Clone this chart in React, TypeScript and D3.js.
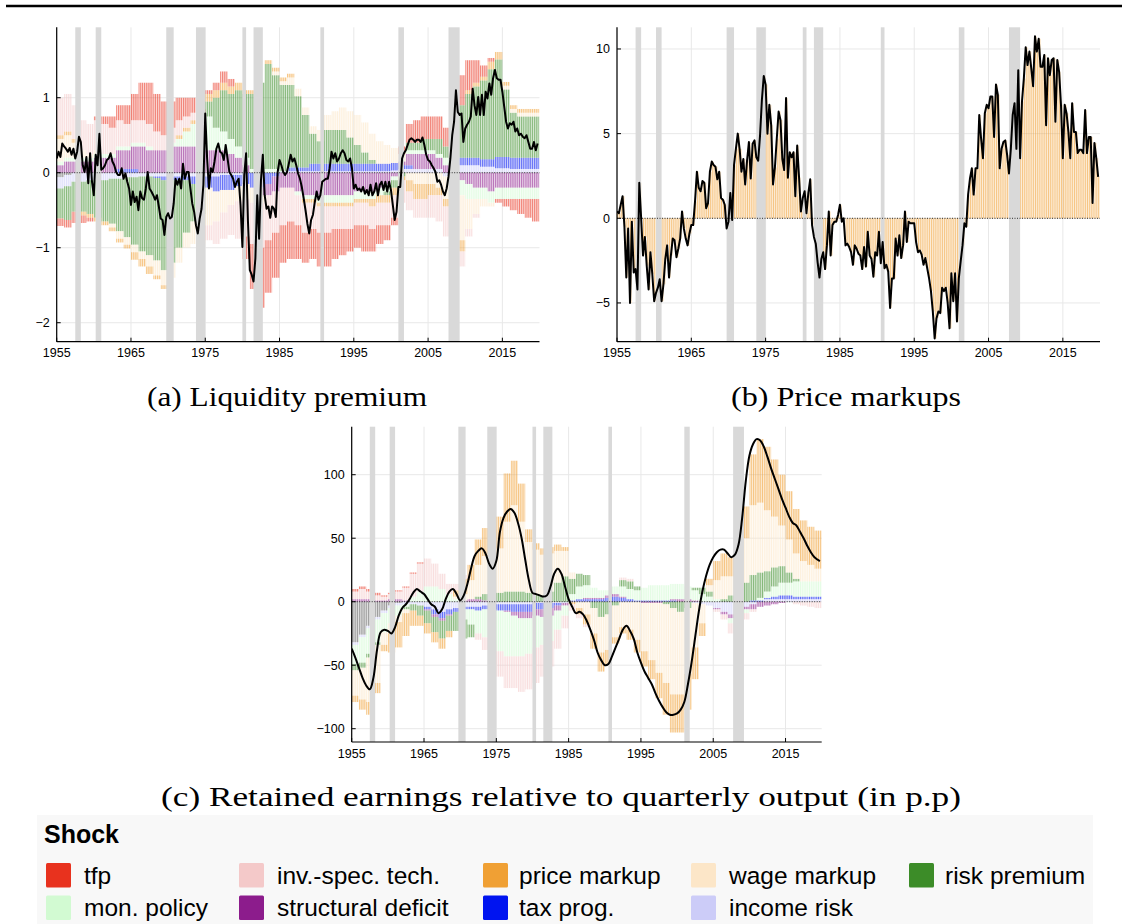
import React from "react";
import * as d3 from "d3";

// ---------------- categories ----------------
const YEARS: number[] = d3.range(1955, 2020);
const X_TICKS = [1955, 1965, 1975, 1985, 1995, 2005, 2015];
const RECESSIONS: [number, number][] = [
  [1957.5, 1958.25], [1960.25, 1961.0], [1969.75, 1970.75], [1973.75, 1975.0],
  [1980.0, 1980.5], [1981.5, 1982.75], [1990.5, 1991.0], [2001.0, 2001.75], [2007.75, 2009.25],
];

const SHOCK_KEYS = ["tfp", "inv", "price", "wage", "risk", "mon", "struct", "tax", "income"];
const SHOCK_LABELS = ["tfp", "inv.-spec. tech.", "price markup", "wage markup", "risk premium",
  "mon. policy", "structural deficit", "tax prog.", "income risk"];
const SHOCK_COLORS = ["#e8321e", "#f4c9c9", "#f0a034", "#fce6c8", "#3c8c28",
  "#d2fad2", "#8c1c8c", "#0014f0", "#ccccf8"];
const INIT_COLOR = "#606060";
const STACK_ORDER = ["init", "income", "tax", "struct", "mon", "risk", "wage", "price", "inv", "tfp"];

// ---------------- (a) Liquidity premium: quarterly total, 1955Q1-2019Q4 ----------------
const aLine = [
  0.19, 0.28, 0.21, 0.39, 0.35, 0.32, 0.28, 0.33, 0.24, 0.32,
  0.19, 0.28, 0.48, 0.41, 0.10, 0.01, 0.21, -0.14, 0.26, -0.12,
  -0.30, 0.24, 0.10, 0.52, 0.04, 0.06, 0.10, 0.17, 0.19, 0.26,
  0.15, 0.10, 0.01, -0.03, -0.03, 0.06, -0.08, -0.01, -0.12, -0.21,
  -0.43, -0.25, -0.39, -0.32, -0.50, -0.25, -0.34, -0.36, -0.21, 0.01,
  -0.21, -0.25, -0.30, -0.36, -0.30, -0.45, -0.61, -0.63, -0.83, -0.59,
  -0.54, -0.61, -0.59, -0.41, -0.08, -0.16, -0.08, -0.21, 0.12, -0.08,
  0.01, 0.01, -0.21, -0.41, -0.52, -0.70, -0.81, -0.61, -0.48, -0.16,
  0.79, 0.19, -0.21, 0.06, 0.01, 0.15, 0.32, 0.39, 0.28, 0.26,
  0.17, 0.37, 0.19, 0.01, -0.03, -0.08, -0.19, -0.12, -0.08, -0.43,
  -0.99, -0.03, 0.26, -0.65, -1.30, -1.36, -1.45, -1.14, -0.30, -0.88,
  -0.10, 0.24, -0.30, -0.48, -0.45, -0.60, -0.45, -0.48, -0.59, 0.01,
  0.17, 0.10, 0.01, -0.03, 0.01, 0.12, 0.24, 0.15, 0.19, 0.10,
  -0.01, -0.08,
  -0.19, -0.34, -0.50, -0.68, -0.81, -0.63, -0.56, -0.39, -0.25, -0.36,
  -0.30, -0.12, -0.10, -0.08, -0.08, 0.06, 0.28, 0.19, 0.26, 0.15,
  0.19, 0.26, 0.30, 0.26, 0.17, 0.15, 0.19, 0.06, -0.21, -0.16,
  -0.23, -0.21, -0.25, -0.19, -0.28, -0.23, -0.30, -0.16, -0.30, -0.25,
  -0.14, -0.30, -0.16, -0.12, -0.23, -0.12, -0.25, -0.12, -0.23, -0.43,
  -0.63, -0.52, -0.19, -0.19, 0.19, 0.26, 0.30, 0.37, 0.44, 0.46,
  0.44, 0.41, 0.44, 0.44, 0.41, 0.47, 0.37, 0.24, 0.17, 0.15,
  0.10, 0.06, 0.01, -0.12, -0.10, -0.16, -0.25, -0.30, -0.21, -0.05,
  0.19, 0.50, 0.68, 1.10, 0.81, 0.77, 0.79, 0.41, 0.59, 0.64,
  0.68, 0.75, 1.12, 0.90, 0.77, 1.01, 0.77, 1.04, 0.77, 1.08,
  0.99, 1.19, 1.04, 1.26, 1.37, 1.26, 1.24, 1.24, 1.08, 0.88,
  0.68, 0.59, 0.66, 0.64, 0.68, 0.55, 0.59, 0.50, 0.52, 0.48,
  0.46, 0.50, 0.41, 0.32, 0.32, 0.41, 0.30, 0.39,
];

// (a) annual shock contributions 1955-2019
const aTfp = [
  -0.1, -0.1, -0.15, -0.1, -0.05, 0.05, 0.1, 0.15, 0.2, 0.25,
  0.35, 0.5, 0.55, 0.5, 0.45, 0.35, 0.3, 0.25, 0.2, 0.1,
  0.05, 0.1, 0.15, 0.1, 0.0, -0.3, -0.6, -0.8, -0.7, -0.6,
  -0.5, -0.5, -0.45, -0.4, -0.4, -0.45, -0.45, -0.4, -0.35, -0.3,
  -0.3, -0.35, -0.3, -0.25, -0.2, -0.1, 0.1, 0.25, 0.3, 0.3,
  0.3, 0.3, 0.25, 0.3, 0.4, 0.4, 0.3, 0.15, 0.05, -0.05,
  -0.1, -0.15, -0.2, -0.25, -0.3,
];
const aInv = [
  0.5, 0.5, 0.45, 0.4, 0.4, 0.4, 0.4, 0.35, 0.35, 0.3,
  0.3, 0.3, 0.3, 0.25, 0.2, 0.2, 0.2, 0.15, 0.1, 0.0,
  -0.2, -0.3, -0.35, -0.4, -0.5, -0.5, -0.55, -0.6, -0.6, -0.55,
  -0.5, -0.45, -0.4, -0.4, -0.35, -0.35, -0.35, -0.3, -0.3, -0.3,
  -0.3, -0.3, -0.3, -0.3, -0.3, -0.3, -0.3, -0.25, -0.25, -0.25,
  -0.3, -0.35, -0.4, -0.35, -0.2, -0.1, -0.05, 0, 0, 0,
  0, 0, 0, 0, 0,
];
const aPrice = [
  0.05, 0.05, 0.05, -0.05, -0.05, -0.05, -0.05, -0.05, -0.05, -0.05,
  -0.1, -0.1, -0.1, -0.05, -0.05, 0.0, 0.05, 0.05, 0.05, 0.1,
  0.1, 0.1, 0.1, 0.1, 0.1, 0.05, 0.05, 0.0, 0.05, 0.05,
  0.05, 0.05, 0.0, -0.05, -0.05, -0.05, -0.05, -0.05, -0.05, -0.05,
  -0.05, -0.05, -0.1, -0.1, -0.1, -0.1, -0.05, -0.15, -0.2, -0.2,
  -0.15, -0.1, -0.1, -0.1, -0.15, 0.05, 0.05, 0.05, 0.1, 0.1,
  0.05, 0.05, 0.05, 0.05, 0.05,
];
const aWage = [
  0.3, 0.3, 0.2, 0.1, 0.05, 0.05, 0.0, -0.05, -0.1, -0.1,
  -0.1, -0.1, -0.15, -0.2, -0.2, -0.2, -0.2, -0.2, -0.3, -0.4,
  -0.5, -0.4, -0.3, -0.2, -0.2, -0.2, -0.2, -0.1, 0.0, 0.05,
  0.05, 0.1, 0.1, 0.1, 0.1, 0.15, 0.2, 0.25, 0.3, 0.35,
  0.4, 0.4, 0.35, 0.3, 0.25, 0.2, 0.1, -0.1, -0.15, -0.15,
  -0.15, -0.2, -0.3, -0.5, -0.6, -0.4, -0.2, -0.1, -0.05, 0.0,
  0.05, 0.05, 0.05, 0.05, 0.05,
];
const aRisk = [
  -0.4, -0.45, -0.4, -0.4, -0.45, -0.5, -0.55, -0.6, -0.7, -0.8,
  -0.9, -1.0, -1.05, -1.1, -1.2, -1.1, -0.9, -0.7, -0.5, -0.4,
  0.2, 0.4, 0.55, 0.6, 0.75, 0.85, 1.0, 1.15, 1.4, 1.25,
  1.15, 1.1, 0.95, 0.7, 0.4, 0.3, 0.45, 0.45, 0.45, 0.35,
  0.25, 0.15, 0.05, 0.0, -0.05, -0.1, -0.05, 0.1, 0.1, 0.15,
  0.15, 0.2, 0.15, 0.45, 0.7, 0.85, 0.95, 1.05, 1.2, 1.3,
  0.9, 0.6, 0.55, 0.55, 0.55,
];
const aMon = [
  0.05, 0.05, 0.05, 0.05, 0.05, 0.05, 0.05, 0.05, 0.05, 0.05,
  0.05, 0.05, 0.05, 0.0, 0.0, 0.05, 0.1, 0.2, 0.3, 0.35,
  0.45, 0.3, 0.25, 0.2, 0.15, 0.1, 0.05, 0.05, 0.05, 0.05,
  0.0, 0.0, -0.05, -0.05, -0.05, -0.1, -0.1, -0.1, -0.1, -0.1,
  -0.1, -0.1, -0.1, -0.1, -0.1, -0.05, 0.0, 0.05, 0.05, 0.05,
  0.05, 0.05, 0.1, -0.1, -0.2, -0.2, -0.15, -0.15, -0.15, -0.15,
  -0.15, -0.15, -0.15, -0.15, -0.15,
];
const aStruct = [
  0.1, 0.15, 0.15, 0.15, 0.15, 0.2, 0.2, 0.2, 0.25, 0.25,
  0.3, 0.35, 0.3, 0.3, 0.3, 0.35, 0.35, 0.35, 0.35, 0.3,
  0.3, 0.3, 0.3, 0.25, 0.2, 0.1, 0.0, -0.1, -0.15, -0.2,
  -0.2, -0.2, -0.25, -0.3, -0.3, -0.3, -0.3, -0.3, -0.3, -0.3,
  -0.25, -0.25, -0.25, -0.2, -0.15, -0.05, 0.05, 0.15, 0.2, 0.2,
  0.2, 0.15, 0.1, -0.05, -0.1, -0.15, -0.2, -0.2, -0.25, -0.2,
  -0.2, -0.2, -0.2, -0.2, -0.2,
];
const aTax = [
  0, 0, 0, 0, 0, 0, 0, 0, 0.05, 0.05,
  0.05, 0, 0, -0.02, -0.05, -0.05, -0.05, -0.05, -0.1, -0.1,
  -0.15, -0.2, -0.2, -0.2, -0.15, -0.15, -0.2, -0.2, -0.15, -0.05,
  0, 0.05, 0.05, 0.05, 0.1, 0.1, 0.1, 0.1, 0.1, 0.1,
  0.1, 0.1, 0.1, 0.1, 0.1, 0.1, 0.05, 0.05, 0, 0,
  0, 0, 0, 0.05, 0.1, 0.1, 0.1, 0.1, 0.1, 0.15,
  0.15, 0.15, 0.15, 0.15, 0.15,
];
const aIncome = [
  -0.15, -0.15, -0.12, -0.12, -0.1, -0.1, -0.1, -0.08, -0.08, -0.06,
  -0.06, -0.05, -0.05, -0.05, -0.05, -0.05, -0.05, -0.05, -0.05, -0.05,
  -0.05, -0.05, -0.03, -0.03, -0.03, 0, 0, 0, 0, 0,
  0.02, 0.02, 0.02, 0.02, 0.02, 0.02, 0.02, 0.02, 0.02, 0.02,
  0.02, 0.02, 0.02, 0.02, 0.02, 0.03, 0.05, 0.05, 0.05, 0.05,
  0.05, 0.05, -0.05, -0.1, 0.1, 0.1, 0.1, 0.08, 0.08, 0.06,
  0.06, 0.05, 0.05, 0.05, 0.05,
];
const aInit = [-0.06, -0.03];

// ---------------- (b) Price markups: quarterly total, 1955Q1-2019Q4 ----------------
const bLine = [
  0.4, 0.3, 0.8, 1.3, -0.5, -3.5, -0.6, -5.0, -0.2, -3.2,
  -3.0, -4.2, 2.1, 0.0, -2.2, -1.1, -2.8, -4.2, -2.0, -3.3,
  -4.9, -4.4, -4.1, -3.6, -4.9, -3.9, -2.4, -1.6, -3.5, -2.2,
  -1.2, -1.3, -2.3, -1.8, -1.2, 0.4, -0.6, -1.2, -1.6, -0.9,
  -0.4, -0.4, 1.0, 2.75, 1.8, 1.6, 2.2, 2.1, 0.6, 0.9,
  2.75, 3.35, 3.15, 3.05, 2.3, 2.75, 1.2, 1.1, 0.8, -0.6,
  -0.2, 1.5, -0.1, 3.15, 4.1, 5.0, 4.1, 2.75, 3.5, 2.0,
  3.4, 4.5, 2.35, 4.4, 4.6, 3.6, 3.4, 4.9, 7.0, 8.4,
  7.9, 5.0, 6.7, 5.5, 2.0, 3.0, 4.7, 6.3, 5.8, 3.5,
  2.85, 7.1, 2.4, 3.9, 3.6, 3.9, 1.3, 4.3, 2.4, 0.4,
  1.2, 1.6, 0.3, 1.5, 2.3, -0.4, -1.1, -1.5, -2.6, -3.5,
  -2.4, -2.0, -3.0, -1.6, 0.4, -2.2, -0.4, -0.2, -0.2, 0.2,
  0.8, -0.2, 0.0, -1.6, -1.5, -1.7, -2.0,
  -2.75, -1.6, -1.8, -2.1, -2.2, -3.0, -1.7, -2.85, -0.8, -2.2,
  -2.4, -3.45, -2.0, -2.2, -0.8, -2.65, -1.4, -2.95, -2.75, -3.15,
  -5.3, -3.55, -3.55, -1.2, -2.2, -1.0, -2.35, -1.6, 0.4, -1.4,
  -0.2, -0.3, -0.3, -0.3, -1.4, -2.0, -1.9, -2.15, -2.75, -2.35,
  -2.95, -3.55, -4.3, -5.5, -7.1, -5.9, -5.5, -5.6, -4.1, -4.3,
  -4.1, -5.0, -6.5, -3.25, -4.9, -3.25, -6.1, -3.55, -2.55, -1.6,
  -0.3, -0.5, 1.4, 2.35, 2.95, 1.4, 2.95, 2.95, 6.1, 4.7,
  3.55, 6.2, 6.7, 6.5, 7.2, 7.2, 4.8, 7.9, 7.3, 2.95,
  4.1, 4.5, 4.6, 3.75, 2.65, 4.1, 6.1, 6.8, 4.1, 8.75,
  3.55, 6.9, 8.25, 10.1, 9.05, 9.85, 8.85, 7.8, 10.75, 9.85,
  10.6, 8.95, 8.95, 9.65, 5.5, 9.45, 8.45, 9.35, 9.45, 5.7,
  9.35, 8.65, 6.7, 3.55, 6.7, 6.2, 5.1, 3.55, 6.8, 5.1,
  5.1, 3.85, 4.05, 4.05, 3.85, 6.4, 3.85, 4.8, 4.8, 0.9,
  4.45, 3.55, 2.45,
];

// ---------------- (c) Retained earnings: smooth total (year, value) ----------------
const cLine: [number, number][] = [
  [1955.0, -37], [1955.5, -44], [1956.0, -52], [1956.5, -60], [1957.0, -66], [1957.5, -69],
  [1958.0, -60], [1958.5, -38], [1959.0, -24], [1959.5, -22], [1960.0, -23], [1960.5, -25],
  [1961.0, -20], [1961.5, -11], [1962.0, -5], [1962.5, -2], [1963.0, 2], [1963.5, 7],
  [1964.0, 10], [1964.5, 8], [1965.0, 6], [1965.5, 2], [1966.0, -2], [1966.5, -4],
  [1967.0, -9], [1967.5, -6], [1968.0, 2], [1968.5, 8], [1969.0, 10], [1969.5, 6],
  [1970.0, 1], [1970.5, 5], [1971.0, 14], [1971.5, 26], [1972.0, 36], [1972.5, 40],
  [1973.0, 42], [1973.5, 38], [1974.0, 30], [1974.5, 26], [1975.0, 32], [1975.5, 55],
  [1976.0, 66], [1976.5, 71], [1977.0, 73], [1977.5, 70], [1978.0, 62], [1978.5, 50],
  [1979.0, 33], [1979.5, 17], [1980.0, 7], [1980.5, 6], [1981.0, 5], [1981.5, 4],
  [1982.0, 5], [1982.5, 12], [1983.0, 22], [1983.5, 26], [1984.0, 22], [1984.5, 12],
  [1985.0, 2], [1985.5, -4], [1986.0, -9], [1986.5, -8], [1987.0, -10], [1987.5, -15],
  [1988.0, -22], [1988.5, -30], [1989.0, -40], [1989.5, -46], [1990.0, -50], [1990.5, -49],
  [1991.0, -43], [1991.5, -36], [1992.0, -29], [1992.5, -22], [1993.0, -19], [1993.5, -23],
  [1994.0, -29], [1994.5, -40], [1995.0, -48], [1995.5, -55], [1996.0, -60], [1996.5, -65],
  [1997.0, -72], [1997.5, -78], [1998.0, -83], [1998.5, -87], [1999.0, -89], [1999.5, -89],
  [2000.0, -88], [2000.5, -85], [2001.0, -79], [2001.5, -65], [2002.0, -48], [2002.5, -28],
  [2003.0, -8], [2003.5, 8], [2004.0, 20], [2004.5, 29], [2005.0, 35], [2005.5, 39],
  [2006.0, 41], [2006.5, 41], [2007.0, 38], [2007.5, 35], [2008.0, 37], [2008.5, 45],
  [2009.0, 66], [2009.5, 95], [2010.0, 115], [2010.5, 124], [2011.0, 128], [2011.5, 127],
  [2012.0, 122], [2012.5, 114], [2013.0, 105], [2013.5, 97], [2014.0, 89], [2014.5, 81],
  [2015.0, 74], [2015.5, 67], [2016.0, 62], [2016.5, 60], [2017.0, 55], [2017.5, 50],
  [2018.0, 44], [2018.5, 39], [2019.0, 35], [2019.75, 32],
];

// (c) annual shock contributions 1955-2019
const cTfp = [2, 2, 2, 2, 1, 1, 1, 1, 1, 1];
const cInv = [
  6, 8, 6, 4, 3, 4, 6, 10, 18, 22,
  22, 18, 12, 8, 5, 3, 0, -5, -10, -15,
  -20, -25, -25, -28, -28, -28, -25, -20, -15, -10,
  -5, -3, -2, 0, 0, 0, 0, 2, 2, 0,
  0, 0, 0, 0, 0, 0, 0, 0, 0, 0,
  -2, -4, -8, -10, -5, -2, 0, 0, 0, 0,
  0, -2, -3, -4, -5,
];
const cPrice = [
  -5, -8, -10, -8, -5, -15, -20, -18, -12, -8,
  -8, -8, -8, -5, 5, 12, 12, 20, 22, 20,
  25, 38, 35, 30, 10, 5, 5, 5, 5, 3,
  -2, -5, -8, -12, -15, -12, -5, -5, -8, -10,
  -12, -15, -20, -25, -30, -30, -28, -25, -10, 5,
  15, 18, 15, 10, 25, 40, 50, 50, 45, 40,
  38, 35, 32, 30, 30,
];
const cWage = [
  -20, -25, -35, -30, -10, -8, -5, -3, 0, 0,
  0, 0, 0, 0, 2, 5, 15, 25, 30, 30,
  35, 55, 68, 55, 40, 35, 32, 30, 25, 20,
  5, -5, -10, -20, -28, -28, -25, -20, -22, -30,
  -38, -45, -55, -62, -68, -65, -52, -35, -15, 5,
  15, 18, 15, 15, 35, 55, 55, 48, 40, 32,
  26, 20, 16, 13, 10,
];
const cRisk = [
  -5, -4, -3, -2, 0, 0, 0, -2, -5, -8,
  -10, -12, -14, -12, -15, -15, -10, 2, 5, 6,
  7, 8, 8, 8, 7, 6, 5, 8, 15, 20,
  12, 10, 8, -5, -12, -10, -3, 5, 6, 3,
  0, 0, 0, -2, -5, -8, -5, 2, 5, 4,
  0, 2, 5, 8, 15, 20, 20, 16, 15, 13,
  8, 2, 0, 0, 0,
];
const cMon = [
  -15, -20, -20, -18, -15, -12, -8, -2, 4, 8,
  12, 12, 10, 6, 2, -8, -12, -18, -22, -28,
  -32, -35, -32, -30, -28, -25, -22, -20, -15, -8,
  5, 10, 10, 8, 6, 4, 6, 8, 8, 8,
  10, 12, 12, 12, 12, 12, 10, 8, 6, 4,
  2, 0, -4, -5, -3, 0, 2, 5, 8, 10,
  10, 12, 12, 12, 12,
];
const cStruct = [
  2, 2, 2, 1, 1, 2, 2, 1, 0, 0,
  -1, -2, -2, -1, 0, 1, 2, 2, 1, 1,
  0, -1, -3, -5, -5, -5, -6, -6, -4, -2,
  0, 0, 1, 1, 1, 2, 2, 1, 0, 0,
  -1, -1, -1, 0, 1, 2, 2, 1, 0, 0,
  -1, -2, -3, -3, -2, -4, -4, -3, -2, -1,
  0, 0, 0, 0, 0,
];
const cTax = [
  0, 0, 0, 0, 0, 0, 0, 0, 0, 0,
  -2, -4, -5, -4, -3, -2, -2, -3, -3, -4,
  -5, -5, -6, -6, -6, -5, -5, -4, -2, 0,
  1, 2, 2, 2, 2, 3, 4, 3, 2, 1,
  1, 1, 1, 1, 1, 0, 0, 0, 0, 0,
  0, 0, 0, 0, 0, 1, 1, 1, 2, 3,
  3, 2, 2, 2, 2,
];
const cIncome = [
  -2, -2, -2, -2, -2, -2, -2, -2, -2, -3,
  -4, -6, -8, -6, -5, -4, -4, -4, -3, -2,
  -2, -2, -2, -2, -2, -1, -1, -1, -1, -1,
  0, 0, 0, 0, 0, 0, 0, 0, 0, 0,
  0, 0, 0, 0, 0, 0, 0, -1, -2, -3,
  -5, -8, -10, -8, -4, -2, 0, 2, 2, 2,
  2, 2, 2, 2, 2,
];
const cInit = [-32, -26, -19, -12, -7, -3, -1];

// ---------------- helpers ----------------
type Row = { [k: string]: number };
function buildRows(src: { [k: string]: number[] }): Row[] {
  return YEARS.map((y, i) => {
    const r: Row = { year: y };
    STACK_ORDER.forEach((k) => { r[k] = (src[k] && src[k][i]) ?? 0; });
    return r;
  });
}
const colorOf = (k: string) => (k === "init" ? INIT_COLOR : SHOCK_COLORS[SHOCK_KEYS.indexOf(k)]);

const rowsA = buildRows({ tfp: aTfp, inv: aInv, price: aPrice, wage: aWage, risk: aRisk,
  mon: aMon, struct: aStruct, tax: aTax, income: aIncome, init: aInit });
const rowsC = buildRows({ tfp: cTfp, inv: cInv, price: cPrice, wage: cWage, risk: cRisk,
  mon: cMon, struct: cStruct, tax: cTax, income: cIncome, init: cInit });

const fmt = (t: number) => (t < 0 ? "\u2212" + Math.abs(t) : String(t));
const FONT = "'Liberation Sans', Arial, Helvetica, sans-serif";

type PanelProps = {
  id: string; x0: number; x1: number; yTop: number; yBot: number;
  yDom: [number, number]; yTicks: number[];
  rows?: Row[]; qBars?: number[]; qLine?: number[]; pLine?: [number, number][];
};

function Panel(p: PanelProps) {
  const xs = d3.scaleLinear().domain([1955, 2020]).range([p.x0, p.x1]);
  const ys = d3.scaleLinear().domain(p.yDom).range([p.yBot, p.yTop]);
  const q = xs(1955.25) - xs(1955);
  const W = p.x1 - p.x0, H = p.yBot - p.yTop;

  const rects: JSX.Element[] = [];
  if (p.rows) {
    const stacked = d3.stack<Row>().keys(STACK_ORDER).value((d, k) => d[k])
      .offset(d3.stackOffsetDiverging)(p.rows);
    stacked.forEach((s) => {
      const col = colorOf(s.key);
      s.forEach((seg, i) => {
        const a = ys(seg[0]), b = ys(seg[1]);
        if (Math.abs(a - b) < 0.01) return;
        const yr = p.rows![i].year;
        rects.push(<rect key={s.key + i} x={xs(yr)} width={xs(yr + 1) - xs(yr)}
          y={Math.min(a, b)} height={Math.abs(a - b)} fill={col} />);
      });
    });
  }
  if (p.qBars) {
    p.qBars.forEach((v, i) => {
      const t = 1955 + i * 0.25;
      const a = ys(0), b = ys(v);
      rects.push(<rect key={"q" + i} x={xs(t)} width={xs(t + 0.25) - xs(t)}
        y={Math.min(a, b)} height={Math.abs(a - b)} fill={SHOCK_COLORS[2]} />);
    });
  }

  let path = "";
  if (p.qLine) {
    path = d3.line<number>().x((_, i) => xs(1955 + i * 0.25)).y((v) => ys(v))(p.qLine) || "";
  } else if (p.pLine) {
    path = d3.line<[number, number]>().x((d) => xs(d[0])).y((d) => ys(d[1]))
      .curve(d3.curveCatmullRom.alpha(0.5))(p.pLine) || "";
  }

  return (
    <g>
      <defs>
        <pattern id={"pt" + p.id} patternUnits="userSpaceOnUse" x={p.x0} y={0} width={q} height={10}>
          <rect width={q} height={10} fill="#3c3c3c" />
          <rect width={q * 0.55} height={10} fill="#ffffff" />
        </pattern>
        <mask id={"mk" + p.id} maskUnits="userSpaceOnUse" x={p.x0} y={p.yTop} width={W} height={H}>
          <rect x={p.x0} y={p.yTop} width={W} height={H} fill={`url(#pt${p.id})`} />
        </mask>
        <clipPath id={"cp" + p.id}>
          <rect x={p.x0} y={p.yTop} width={W} height={H} />
        </clipPath>
      </defs>
      {/* grid */}
      {X_TICKS.map((t) => (
        <line key={"gx" + t} x1={xs(t)} x2={xs(t)} y1={p.yTop} y2={p.yBot} stroke="#e8e8e8" strokeWidth={1} />
      ))}
      {p.yTicks.map((t) => (
        <line key={"gy" + t} x1={p.x0} x2={p.x1} y1={ys(t)} y2={ys(t)} stroke="#e8e8e8" strokeWidth={1} />
      ))}
      {/* bars */}
      <g mask={`url(#mk${p.id})`} fillOpacity={0.62}>{rects}</g>
      {/* recessions */}
      {RECESSIONS.map(([s, e], i) => (
        <rect key={"r" + i} x={xs(s)} width={xs(e) - xs(s)} y={p.yTop} height={H} fill="#d9d9d9" />
      ))}
      {/* zero line */}
      <line x1={p.x0} x2={p.x1} y1={ys(0)} y2={ys(0)} stroke="#000" strokeWidth={0.8} strokeDasharray="1 1.5" />
      {/* total */}
      <path d={path} fill="none" stroke="#000" strokeWidth={2} strokeLinejoin="round" clipPath={`url(#cp${p.id})`} />
      {/* axes */}
      <line x1={p.x0} x2={p.x0} y1={p.yTop} y2={p.yBot} stroke="#000" strokeWidth={1.2} />
      <line x1={p.x0} x2={p.x1} y1={p.yBot} y2={p.yBot} stroke="#000" strokeWidth={1.2} />
      {p.yTicks.map((t) => (
        <g key={"ty" + t}>
          <line x1={p.x0} x2={p.x0 + 4} y1={ys(t)} y2={ys(t)} stroke="#000" strokeWidth={1} />
          <text x={p.x0 - 7} y={ys(t)} dy="0.36em" textAnchor="end" fontFamily={FONT} fontSize={12.5} fill="#000">{fmt(t)}</text>
        </g>
      ))}
      {X_TICKS.map((t) => (
        <g key={"tx" + t}>
          <line x1={xs(t)} x2={xs(t)} y1={p.yBot} y2={p.yBot - 4} stroke="#000" strokeWidth={1} />
          <text x={xs(t)} y={p.yBot + 15.6} textAnchor="middle" fontFamily={FONT} fontSize={12.5} fill="#000">{t}</text>
        </g>
      ))}
    </g>
  );
}

const LEG_COL_SW = [46, 239, 483, 691, 909];
const LEG_COL_TX = [84, 277, 519, 729, 945];

export default function App() {
  const serif = "'Liberation Serif', 'Times New Roman', serif";
  return (
    <svg width={1122} height={924} style={{ position: "absolute", left: 0, top: 0, background: "#fff" }}>
      <rect x={0} y={0} width={1122} height={924} fill="#fff" />
      <line x1={6} x2={1122} y1={6} y2={6} stroke="#000" strokeWidth={2.6} />

      <Panel id="a" x0={56.7} x1={539.5} yTop={27.3} yBot={341.7} yDom={[-2.253, 1.939]}
        yTicks={[-2, -1, 0, 1]} rows={rowsA} qLine={aLine} />
      <Panel id="b" x0={617} x1={1100} yTop={27.3} yBot={341.7} yDom={[-7.289, 11.28]}
        yTicks={[-5, 0, 5, 10]} qBars={bLine} qLine={bLine} />
      <Panel id="c" x0={351.7} x1={821.7} yTop={426.7} yBot={742} yDom={[-110.47, 137.8]}
        yTicks={[-100, -50, 0, 50, 100]} rows={rowsC} pLine={cLine} />

      <text x={287} y={406} textAnchor="middle" fontFamily={serif} fontSize={27} textLength={280}
        lengthAdjust="spacingAndGlyphs">(a) Liquidity premium</text>
      <text x={846} y={406} textAnchor="middle" fontFamily={serif} fontSize={27} textLength={230}
        lengthAdjust="spacingAndGlyphs">(b) Price markups</text>
      <text x={561} y={806} textAnchor="middle" fontFamily={serif} fontSize={27} textLength={800}
        lengthAdjust="spacingAndGlyphs">(c) Retained earnings relative to quarterly output (in p.p)</text>

      {/* legend */}
      <rect x={37} y={815} width={1056} height={109} fill="#f8f8f8" />
      <text x={44} y={843} fontFamily={FONT} fontWeight="bold" fontSize={25} fill="#000">Shock</text>
      {SHOCK_LABELS.map((lab, i) => {
        const row = i < 5 ? 0 : 1;
        const col = i < 5 ? i : i - 5;
        return (
          <g key={"lg" + i}>
            <rect x={LEG_COL_SW[col]} y={863 + row * 32.5} width={25} height={24.5} rx={1.5}
              fill={SHOCK_COLORS[i]} />
            <text x={LEG_COL_TX[col]} y={883.5 + row * 32} fontFamily={FONT} fontSize={24.5} fill="#000">{lab}</text>
          </g>
        );
      })}
    </svg>
  );
}
